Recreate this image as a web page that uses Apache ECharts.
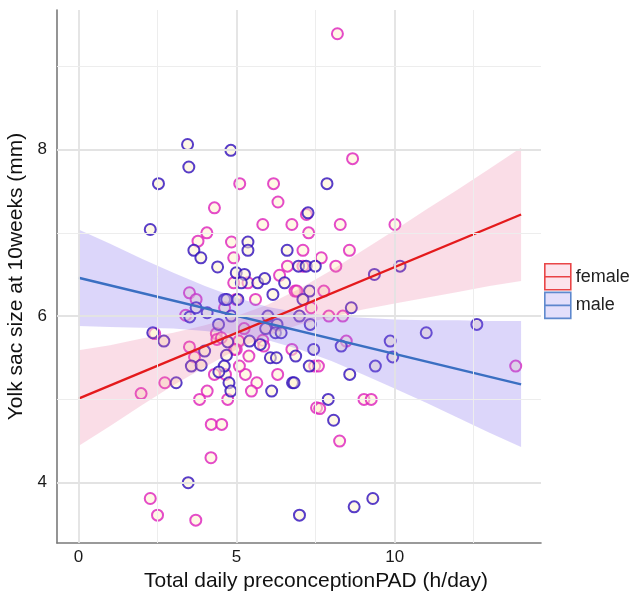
<!DOCTYPE html>
<html><head><meta charset="utf-8">
<script src="https://cdn.jsdelivr.net/npm/echarts@6/dist/echarts.min.js"></script>
<style>html,body{margin:0;padding:0;background:#fff}#c{width:634px;height:595px}</style>
</head><body><div id="c"></div>
<script>
// ---- data ----
const groups = ['female', 'male'];
const femaleX = [8.19,8.67,5.10,6.17,4.30,4.06,3.78,3.51,3.72,3.39,2.41,3.67,4.30,2.73,1.98,4.07,3.83,4.20,4.53,4.19,2.27,2.50,3.71,8.26,7.53,7.63,9.03,9.26,7.47,7.59,6.30,5.64,5.47,5.28,5.09,4.72,4.65,6.31,7.21,5.83,6.75,8.28,7.28,4.84,7.10,8.57,4.91,7.68,6.61,7.10,8.14,4.91,5.36,6.36,6.85,6.91,7.76,7.36,4.99,5.60,4.62,5.24,7.92,8.36,8.47,6.75,5.07,5.83,5.86,4.99,4.94,5.39,4.36,4.38,4.52,3.51,10.01,13.83];
const femaleY = [9.39,7.89,7.59,7.59,7.30,7.00,6.90,6.28,6.20,6.01,5.79,5.51,5.30,5.20,5.07,5.10,5.00,4.70,4.70,4.30,3.81,3.61,3.55,4.50,4.90,4.89,5.00,5.00,5.40,5.40,5.30,5.20,5.10,5.30,5.40,5.00,5.30,7.37,7.22,7.10,7.10,7.10,7.00,6.89,6.79,6.79,6.70,6.70,6.60,6.60,6.60,6.40,6.40,6.49,6.30,6.30,6.30,6.10,6.20,6.20,6.10,5.85,6.00,6.00,5.70,5.60,5.70,5.71,5.64,5.60,5.60,5.52,5.79,5.72,5.74,5.63,7.10,5.40];
const maleX = [3.45,3.49,2.53,4.82,7.86,2.27,3.65,3.87,4.40,3.72,4.07,3.52,2.35,2.70,4.43,3.99,3.57,3.88,3.09,3.47,6.99,8.72,9.31,8.07,7.90,8.58,9.39,7.30,6.11,6.77,6.82,4.76,4.82,4.61,4.44,6.07,6.26,6.87,4.68,7.44,8.31,5.41,5.75,4.72,4.99,5.25,5.15,5.67,5.89,6.52,6.15,5.36,5.36,6.60,6.96,7.20,7.49,9.36,7.26,7.31,7.10,8.63,4.62,4.69,5.04,4.83,5.99,6.28,5.92,6.23,6.41,6.99,7.33,10.17,9.86,11.00,12.60,9.94];
const maleY = [8.06,7.79,7.59,7.99,7.59,7.04,6.79,6.70,6.59,6.10,6.04,5.99,5.80,5.70,5.90,5.58,5.40,5.41,5.20,4.00,3.61,3.71,3.81,4.75,5.00,5.30,5.40,5.40,5.10,5.20,5.20,5.20,5.10,5.40,5.33,5.50,5.50,5.52,5.53,5.60,5.64,5.70,5.66,5.69,6.52,6.50,6.40,6.40,6.45,6.40,6.26,6.89,6.79,6.79,6.60,6.60,6.60,6.50,7.24,6.30,6.20,6.10,6.20,6.20,6.20,6.00,6.00,5.90,5.85,5.80,5.80,6.00,5.90,6.60,5.70,5.80,5.90,5.51];
// fitted lines (read end points)
const fitX = [0, 14];
const femaleFit = [5.01, 7.22];
const maleFit = [6.46, 5.18];
// confidence bands (read)
const bandX = [0,1,2,3,4,5,6,7,8,9,10,11,12,13,14];
const femaleLower = [4.44,4.68,4.93,5.17,5.39,5.60,5.77,5.90,5.99,6.08,6.15,6.22,6.29,6.36,6.42];
const femaleUpper = [5.59,5.65,5.73,5.80,5.89,6.00,6.14,6.33,6.55,6.79,7.03,7.28,7.52,7.77,8.02];
const maleLower = [5.88,5.87,5.86,5.85,5.82,5.78,5.71,5.60,5.46,5.30,5.13,4.96,4.78,4.60,4.43];
const maleUpper = [7.04,6.87,6.69,6.52,6.36,6.22,6.11,6.04,6.00,5.98,5.96,5.95,5.95,5.94,5.94];
// axis ticks
const xTicks = [0, 5, 10];
const xMinor = [2.5, 7.5, 12.5];
const yTicks = [4, 6, 8];
const yMinor = [5, 7, 9];
const xTitle = 'Total daily preconceptionPAD (h/day)';
const yTitle = 'Yolk sac size at 10weeks (mm)';

const FONT = "'Liberation Sans', Arial, Helvetica, sans-serif";
const colors = {
  female: {pt: '#dd1fbb', line: '#e41a1c', band: 'rgba(236,120,160,0.25)', key: '#fbdde7'},
  male:   {pt: '#2e0dbb', line: '#3a6fc2', band: 'rgba(140,120,240,0.30)', key: '#dcd7fa'}
};
const pts = (xs, ys) => xs.map((x, i) => [x, ys[i]]);
const bands = {female: [femaleLower, femaleUpper], male: [maleLower, maleUpper]};
const fits = {female: femaleFit, male: maleFit};
const scat = {female: pts(femaleX, femaleY), male: pts(maleX, maleY)};

const gridLines = [];
const major = {color: '#e3e3e3', width: 1.8, type: 'solid'};
const minor = {color: '#ededed', width: 1, type: 'solid'};
xTicks.forEach(v => gridLines.push({xAxis: v, lineStyle: major}));
xMinor.forEach(v => gridLines.push({xAxis: v, lineStyle: minor}));
yTicks.forEach(v => gridLines.push({yAxis: v, lineStyle: major}));
yMinor.forEach(v => gridLines.push({yAxis: v, lineStyle: minor}));

const series = [];
series.push({type: 'scatter', name: '_grid', data: [], z: 0, silent: true,
  markLine: {silent: true, symbol: ['none', 'none'], label: {show: false}, animation: false,
    lineStyle: {type: 'solid'}, emphasis: {disabled: true}, data: gridLines}});
groups.forEach(g => {
  series.push({type: 'scatter', name: g, data: scat[g], symbol: 'circle', symbolSize: 11, z: 2,
    itemStyle: {color: 'rgba(255,242,205,0.65)', borderColor: colors[g].pt, borderWidth: 2}});
});
groups.forEach(g => {
  series.push({type: 'custom', name: g, data: [0], z: 3, silent: true,
    renderItem: (params, api) => {
      const [lo, hi] = bands[g];
      const p = [];
      bandX.forEach((x, i) => p.push(api.coord([x, hi[i]])));
      for (let i = bandX.length - 1; i >= 0; i--) p.push(api.coord([bandX[i], lo[i]]));
      return {type: 'polygon', shape: {points: p}, style: {fill: colors[g].band}};
    }});
});
groups.forEach(g => {
  series.push({type: 'line', name: g, data: pts(fitX, fits[g]), symbol: 'none', z: 4, silent: true,
    lineStyle: {color: colors[g].line, width: 2.4}});
});

const chart = echarts.init(document.getElementById('c'), null, {renderer: 'canvas'});
chart.setOption({
  animation: false,
  backgroundColor: '#ffffff',
  textStyle: {fontFamily: FONT},
  grid: {left: 57, right: 93, top: 10, bottom: 52, containLabel: false, outerBoundsMode: 'none'},
  legend: {
    orient: 'vertical', left: 544, top: 263, padding: 0, itemGap: 1,
    itemWidth: 26, itemHeight: 26, selectedMode: false,
    textStyle: {fontSize: 18, color: '#222', fontFamily: FONT},
    data: groups.map(g => ({name: g, icon: 'path://M0,0L26,0L26,26L0,26Z M0,13L26,13',
      itemStyle: {color: colors[g].key, borderColor: colors[g].line, borderWidth: 1.6}}))
  },
  xAxis: {type: 'value', min: -0.68, max: 14.63,
    name: xTitle, nameLocation: 'middle', nameGap: 28,
    nameTextStyle: {fontSize: 21, color: '#111', fontFamily: FONT, padding: [0, 0, 0, 34]},
    axisLine: {show: true, onZero: false, lineStyle: {color: '#7a7a7a', width: 1.6}},
    axisTick: {show: false}, splitLine: {show: false},
    axisLabel: {customValues: xTicks, fontSize: 17, color: '#1a1a1a', margin: 6, fontFamily: FONT}},
  yAxis: {type: 'value', min: 3.276, max: 9.675,
    name: yTitle, nameLocation: 'middle', nameGap: 23,
    nameTextStyle: {fontSize: 21, color: '#111', fontFamily: FONT},
    axisLine: {show: true, onZero: false, lineStyle: {color: '#7a7a7a', width: 1.6}},
    axisTick: {show: false}, splitLine: {show: false},
    axisLabel: {customValues: yTicks, fontSize: 17, color: '#1a1a1a', margin: 10, fontFamily: FONT}},
  series: series
});
</script></body></html>
